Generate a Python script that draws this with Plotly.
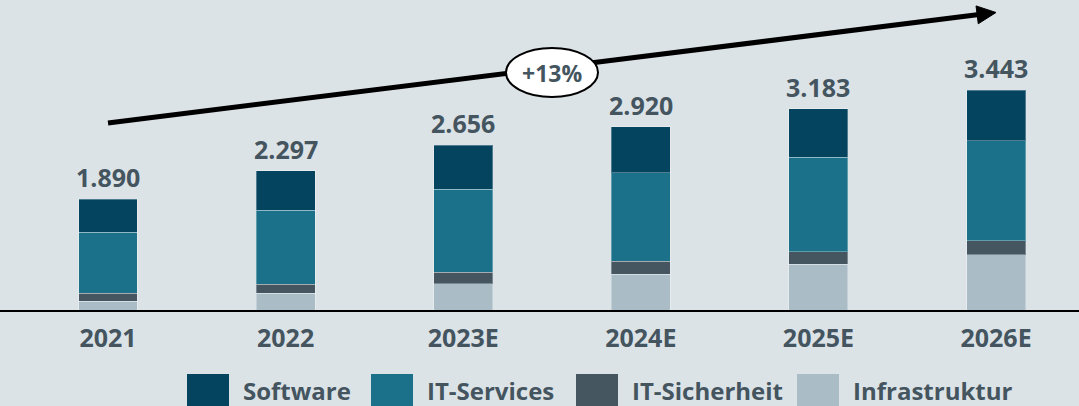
import plotly.graph_objects as go

# ---- data ----
years = ["2021", "2022", "2023E", "2024E", "2025E", "2026E"]
totals = [1890, 2297, 2656, 2920, 3183, 3443]
infrastruktur = [432, 542, 680, 814, 957, 1090]
it_sicherheit = [110, 133, 163, 186, 176, 204]
it_services = [876, 1054, 1190, 1262, 1357, 1425]
software = [472, 568, 623, 658, 693, 724]
cagr_label = "+13%"

series_names = ["Infrastruktur", "IT-Sicherheit", "IT-Services", "Software"]
series_values = [infrastruktur, it_sicherheit, it_services, software]
colors = {"Software": "#05445f", "IT-Services": "#1b7189",
          "IT-Sicherheit": "#455660", "Infrastruktur": "#aabcc6"}
legend_order = ["Software", "IT-Services", "IT-Sicherheit", "Infrastruktur"]

BG = "#dce3e7"
TXT = "#44555f"
FONT = "Open Sans"
W, H = 1079, 406
MB = 96
PH = H - MB  # plot height in px

xidx = list(range(len(years)))

fig = go.Figure()
for name, vals in zip(series_names, series_values):
    fig.add_trace(go.Bar(
        x=xidx, y=vals, name=name,
        marker=dict(color=colors[name], line=dict(color="rgba(255,255,255,0.3)", width=1)),
        showlegend=False, hovertemplate=name + ": %{y}<extra></extra>"))

# total labels
for i, t in zip(xidx, totals):
    fig.add_annotation(x=i, y=t, text=f"{t/1000:.3f}", showarrow=False,
                       xanchor="center", yanchor="middle", yshift=22,
                       font=dict(family=FONT, size=25, color=TXT, weight="bold"))

def px(x):
    return x / W

def py(y):
    return (PH - y) / PH

shapes = []
# growth arrow
sx, sy = 108, 123
tx, ty = 996, 12.5
dx, dy = tx - sx, ty - sy
L = (dx ** 2 + dy ** 2) ** 0.5
ux, uy = dx / L, dy / L
hl, hw = 19, 9
bx, by = tx - hl * ux, ty - hl * uy
shapes.append(dict(type="line", xref="paper", yref="paper",
                   x0=px(sx), y0=py(sy), x1=px(bx + ux * 2), y1=py(by + uy * 2),
                   line=dict(color="black", width=5)))
c1 = (bx - hw * uy, by + hw * ux)
c2 = (bx + hw * uy, by - hw * ux)
path = (f"M {px(tx)} {py(ty)} L {px(c1[0])} {py(c1[1])} "
        f"L {px(c2[0])} {py(c2[1])} Z")
shapes.append(dict(type="path", xref="paper", yref="paper", path=path,
                   fillcolor="black", line=dict(color="black", width=1)))
# ellipse
shapes.append(dict(type="circle", xref="paper", yref="paper",
                   x0=px(506), x1=px(598), y0=py(97), y1=py(48),
                   fillcolor="white", line=dict(color="black", width=2)))
fig.add_annotation(xref="paper", yref="paper", x=px(552), y=py(72.5),
                   xanchor="center", yanchor="middle",
                   text=cagr_label, showarrow=False,
                   font=dict(family=FONT, size=23, color=TXT, weight="bold"))

# custom legend
sq_x = [187, 371, 576, 797]
for name, x0 in zip(legend_order, sq_x):
    shapes.append(dict(type="rect", xref="paper", yref="paper",
                       x0=px(x0), x1=px(x0 + 42), y0=py(410), y1=py(374),
                       fillcolor=colors[name], line=dict(width=0)))
    fig.add_annotation(xref="paper", yref="paper", x=px(x0 + 54), y=py(390),
                       xanchor="left", yanchor="middle", text=name, showarrow=False,
                       font=dict(family=FONT, size=24, color=TXT, weight="bold"))

units_per_px = 14.29
y0v = 311 - 0.5 * units_per_px
y1v = 311 + (PH - 0.5) * units_per_px

fig.update_layout(
    width=W, height=H, barmode="stack", bargap=0.668,
    paper_bgcolor=BG, plot_bgcolor=BG,
    margin=dict(l=0, r=0, t=0, b=MB),
    shapes=shapes,
    xaxis=dict(range=[-0.608, 5.467], showgrid=False,
               tickmode="array", tickvals=xidx, ticktext=years,
               showline=True, linecolor="black", linewidth=2,
               ticks="outside", ticklen=5, tickcolor="rgba(0,0,0,0)",
               tickfont=dict(family=FONT, size=25, color=TXT, weight="bold")),
    yaxis=dict(range=[y0v, y1v], visible=False, showgrid=False, zeroline=False),
)

fig.write_html("out.html", config={"displayModeBar": False},
               post_script="document.body.style.margin='0';"
                           "document.body.style.background='" + BG + "';")
